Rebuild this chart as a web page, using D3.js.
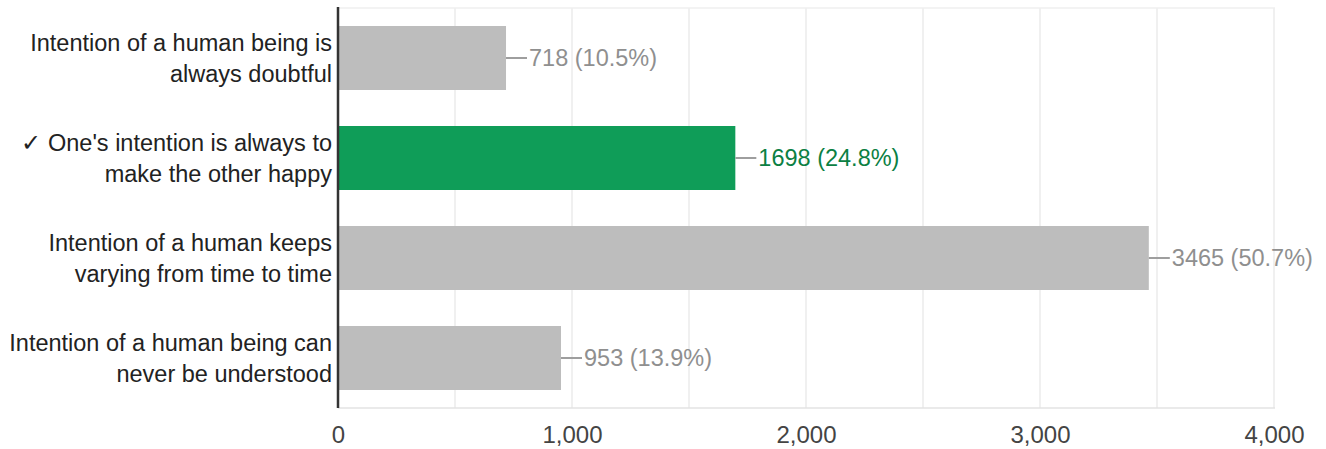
<!DOCTYPE html>
<html>
<head>
<meta charset="utf-8">
<script src="https://cdn.jsdelivr.net/npm/d3@7"></script>
<style>
  body { margin: 0; background: #fff; }
  svg { display: block; font-family: "Liberation Sans", Arial, sans-serif; }
</style>
</head>
<body>
<svg id="chart"></svg>
<script>
// answers, split into the two lines shown on the left
var answers = [
    ["Intention of a human being is", "always doubtful"],
    ["\u2713 One's intention is always to", "make the other happy"],
    ["Intention of a human keeps", "varying from time to time"],
    ["Intention of a human being can", "never be understood"]
];
var counts = [718, 1698, 3465, 953];
var percents = ["10.5%", "24.8%", "50.7%", "13.9%"];
var correct = [false, true, false, false];
var tickValues = [0, 1000, 2000, 3000, 4000];
var gridValues = [500, 1000, 1500, 2000, 2500, 3000, 3500, 4000];

var svgWidth = 1326, svgHeight = 449;
// plot edges (note: "top" is taken by window.top, so use plot* names)
var plotLeft = 338, plotRight = 1274, plotTop = 8, plotBottom = 408;

var svg = d3.select("#chart")
    .attr("width", svgWidth)
    .attr("height", svgHeight);

var xScale = d3.scaleLinear()
    .domain([0, 4000])
    .range([plotLeft, plotRight]);

var yScale = d3.scaleBand()
    .domain(d3.range(answers.length))
    .range([plotTop, plotBottom])
    .paddingInner(0.36)
    .paddingOuter(0.18);

// grid lines
svg.append("g")
    .selectAll("line")
    .data(gridValues)
    .enter()
    .append("line")
    .attr("x1", function (d) { return xScale(d); })
    .attr("x2", function (d) { return xScale(d); })
    .attr("y1", plotTop)
    .attr("y2", plotBottom)
    .attr("stroke", "#ebebeb")
    .attr("stroke-width", 1.5);

// plot frame top / bottom
svg.append("line")
    .attr("x1", plotLeft).attr("x2", plotRight + 1)
    .attr("y1", plotTop).attr("y2", plotTop)
    .attr("stroke", "#efefef").attr("stroke-width", 1.5);
svg.append("line")
    .attr("x1", plotLeft).attr("x2", plotRight + 1)
    .attr("y1", plotBottom).attr("y2", plotBottom)
    .attr("stroke", "#e3e3e3").attr("stroke-width", 1.5);

// bars
svg.append("g")
    .selectAll("rect")
    .data(counts)
    .enter()
    .append("rect")
    .attr("x", xScale(0))
    .attr("y", function (d, i) { return yScale(i); })
    .attr("width", function (d) { return xScale(d) - xScale(0); })
    .attr("height", yScale.bandwidth())
    .attr("fill", function (d, i) { return correct[i] ? "#0f9d58" : "#bdbdbd"; });

// leader lines + value labels
var labels = svg.append("g")
    .selectAll("g")
    .data(counts)
    .enter()
    .append("g")
    .attr("transform", function (d, i) {
        return "translate(" + xScale(d) + "," + (yScale(i) + yScale.bandwidth() / 2) + ")";
    });

labels.append("line")
    .attr("x1", 0).attr("x2", 21)
    .attr("y1", 0).attr("y2", 0)
    .attr("stroke", "#9e9e9e")
    .attr("stroke-width", 2);

labels.append("text")
    .attr("x", 23)
    .attr("dy", "0.35em")
    .attr("font-size", "23.5px")
    .attr("fill", function (d, i) { return correct[i] ? "#0b8043" : "#8f8f8f"; })
    .text(function (d, i) { return d + " (" + percents[i] + ")"; });

// category labels
var cats = svg.append("g")
    .selectAll("text")
    .data(answers)
    .enter()
    .append("text")
    .attr("text-anchor", "end")
    .attr("font-size", "23.5px")
    .attr("fill", "#222")
    .attr("transform", function (d, i) {
        return "translate(" + (plotLeft - 6) + "," + (yScale(i) + yScale.bandwidth() / 2) + ")";
    });

cats.selectAll("tspan")
    .data(function (d) { return d; })
    .enter()
    .append("tspan")
    .attr("x", 0)
    .attr("y", function (d, j) { return j === 0 ? -7 : 23.5; })
    .text(function (d) { return d; });

// zero axis line
svg.append("line")
    .attr("x1", plotLeft).attr("x2", plotLeft)
    .attr("y1", plotTop - 1).attr("y2", plotBottom)
    .attr("stroke", "#333")
    .attr("stroke-width", 2.5);

// x axis ticks
var x_axis = d3.axisBottom(xScale)
    .tickValues(tickValues)
    .tickSize(0)
    .tickPadding(0)
    .tickFormat(d3.format(","));

var axisG = svg.append("g")
    .attr("transform", "translate(0," + plotBottom + ")")
    .attr("font-size", null)
    .attr("font-family", null)
    .call(x_axis);
axisG.select(".domain").remove();
axisG.selectAll("text")
    .attr("y", 35)
    .attr("dy", 0)
    .style("font-family", "Liberation Sans, Arial, sans-serif")
    .style("font-size", "24px")
    .attr("fill", "#444");
</script>
</body>
</html>
